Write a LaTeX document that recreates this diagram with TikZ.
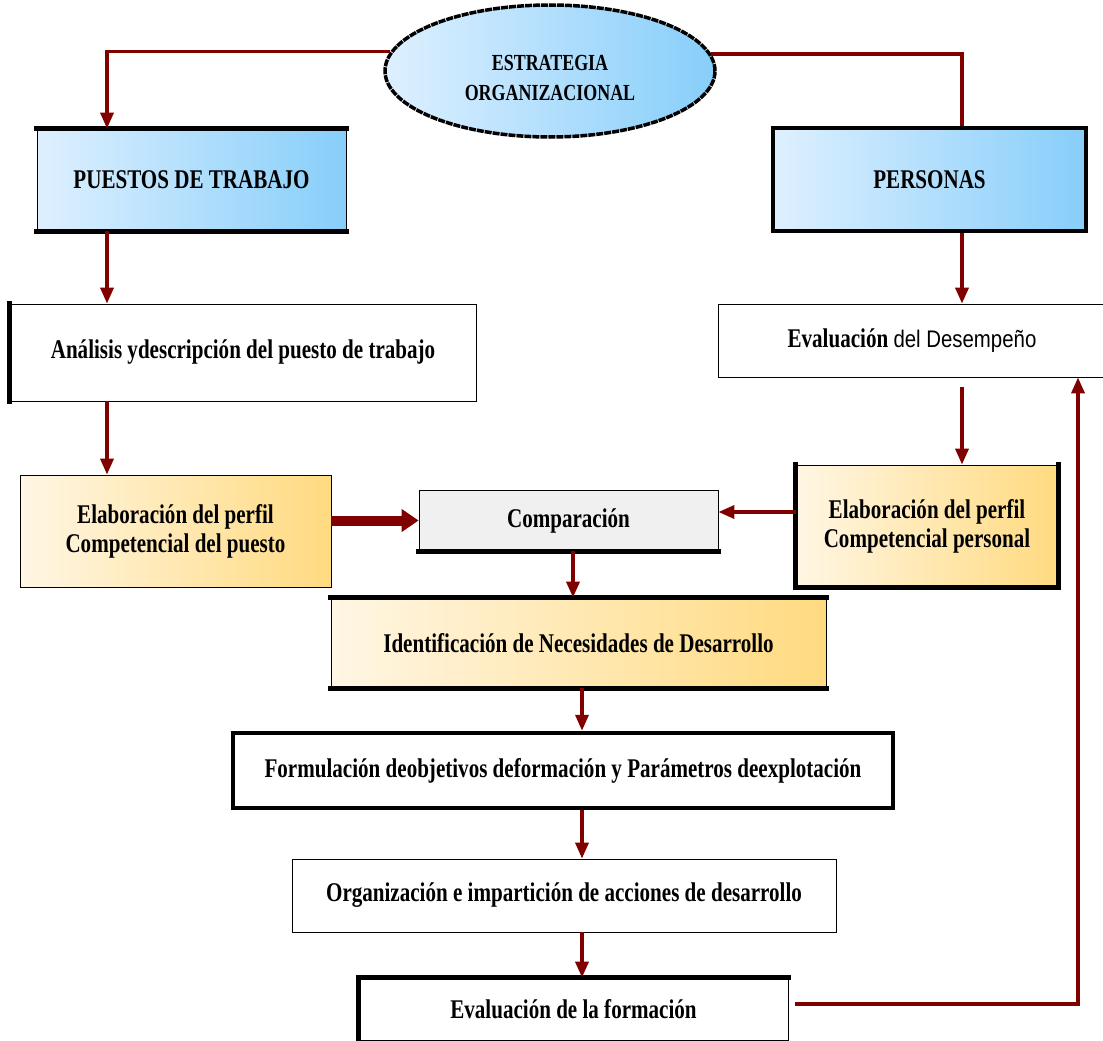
\documentclass[tikz,border=0pt]{standalone}
\usepackage{fontspec}
\setmainfont{Liberation Serif}[FakeStretch=0.78]
\newfontfamily\desfont{Liberation Sans}[FakeStretch=0.85]
\usepackage{xcolor}
\usepackage{tikz}
\usetikzlibrary{arrows.meta,positioning,shapes.geometric,calc}

\definecolor{linkred}{RGB}{128,0,0}
\definecolor{skyl}{RGB}{222,240,255}
\definecolor{skyr}{RGB}{135,206,250}
\definecolor{goldl}{RGB}{255,246,228}
\definecolor{goldr}{RGB}{255,218,128}
\definecolor{cmpgray}{RGB}{240,240,240}

\begin{document}
\begin{tikzpicture}[x=1pt, y=-1pt, every node/.style={align=center, font=\bfseries\fontsize{27}{29}\selectfont}]
\tikzset{
  box/.style={draw, line width=0.8pt, inner sep=0pt, fill=white},
  bluebox/.style={box, left color=skyl, right color=skyr},
  goldbox/.style={box, left color=goldl, right color=goldr},
  link/.style={draw=linkred, line width=3.5pt},
  flow/.style={link, -{Triangle[width=13pt,length=16pt]}},
  heavy/.style={line width=4.5pt, line cap=rect}
}
\useasboundingbox (0,0) rectangle (1103,1041);
\fill[white] (0,0) rectangle (1103,1041);

% columns for the connectors
\coordinate (colL) at (107,52);
\coordinate (colR) at (962,52);
\coordinate (colC) at (573,0);
\coordinate (colM) at (582,0);
\coordinate (colF) at (1078,1004);
\coordinate (rowP) at (0,512);

\node[ellipse, draw=black, line width=3.5pt, dash pattern=on 7pt off 1pt, left color=skyl, right color=skyr,
      minimum width=330, minimum height=132, font=\bfseries\fontsize{23}{30}\selectfont] (estrategia) at (550,71) {\rule{0pt}{30pt}ESTRATEGIA\\ORGANIZACIONAL};

\node[bluebox, minimum width=309, minimum height=102] (puestos) at (191.5,180) {PUESTOS DE TRABAJO};
\node[bluebox, line width=4pt, minimum width=313, minimum height=103] (personas) at (929.5,179.5) {PERSONAS};

\node[box, minimum width=466, minimum height=97] (analisis) at (243,352.5) {Análisis ydescripción del puesto de trabajo};
\node[box, minimum width=388, minimum height=73] (desempeno) at (912,340.5) {Evaluación {\desfont\mdseries\fontsize{24}{29}\selectfont del Desempeño}};

\node[goldbox, minimum width=311, minimum height=112] (elabpuesto) at (175.5,531) {Elaboración del perfil\\Competencial del puesto};
\node[box, fill=cmpgray, minimum width=299, minimum height=61] (comparacion) at (568.5,520.5) {Comparación};
\node[goldbox, minimum width=262, minimum height=122] (elabpersonal) at (927,526) {Elaboración del perfil\\Competencial personal};

\node[goldbox, minimum width=495, minimum height=90] (necesidades) at (578.5,643) {Identificación de Necesidades de Desarrollo};
\node[box, line width=4.5pt, minimum width=660, minimum height=75] (formulacion) at (563,770.5) {Formulación deobjetivos deformación y Parámetros deexplotación};
\node[box, minimum width=544, minimum height=73] (organizacion) at (564,895.5) {Organización e impartición de acciones de desarrollo};
\node[box, minimum width=429, minimum height=62] (evalform) at (573.5,1009) {Evaluación de la formación};

% heavy box edges
\draw[heavy] (puestos.north west) -- (puestos.north east);
\draw[heavy] (puestos.south west) -- (puestos.south east);
\draw[heavy] (analisis.north west) -- (analisis.south west);
\draw[heavy] (comparacion.south west) -- (comparacion.south east);
\draw[heavy] (elabpersonal.north west) -- (elabpersonal.south west) -- (elabpersonal.south east) -- (elabpersonal.north east);
\draw[heavy] (necesidades.north west) -- (necesidades.north east);
\draw[heavy] (necesidades.south west) -- (necesidades.south east);
\draw[heavy] (evalform.south west) -- (evalform.north west) -- (evalform.north east);

% connectors
\draw[flow] (estrategia.173.5) -| (puestos.north -| colL);
\draw[link] (estrategia.6.5) -| (personas.north -| colR);
\draw[flow] (puestos.south -| colL) -- (analisis.north -| colL);
\draw[flow] (analisis.south -| colL) -- (elabpuesto.north -| colL);
\draw[flow] (personas.south -| colR) -- (desempeno.north -| colR);
\draw[flow] ($(desempeno.south -| colR)+(0,10)$) -- (elabpersonal.north -| colR);
\draw[flow, line width=10pt, -{Triangle[width=22pt,length=17pt]}] (elabpuesto.east |- comparacion.west) -- (comparacion.west);
\draw[flow] (elabpersonal.west |- rowP) -- (comparacion.east |- rowP);
\draw[flow] (comparacion.south -| colC) -- (necesidades.north -| colC);
\draw[flow] (necesidades.south -| colM) -- (formulacion.north -| colM);
\draw[flow] (formulacion.south -| colM) -- (organizacion.north -| colM);
\draw[flow] (organizacion.south -| colM) -- (evalform.north -| colM);
\draw[flow] ($(evalform.east)+(7,-5)$) -- (colF) -- (colF |- desempeno.south);
\end{tikzpicture}
\end{document}
